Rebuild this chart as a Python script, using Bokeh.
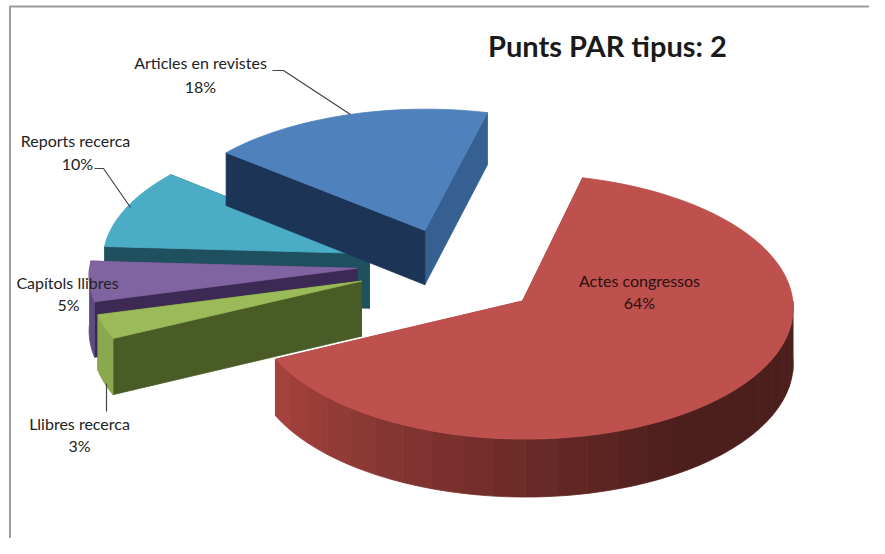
import math
from bokeh.plotting import figure
from bokeh.models import Range1d
from bokeh.embed import file_html
from bokeh.resources import INLINE
from bokeh.core.properties import value

# data
categories = ["Actes congressos", "Llibres recerca", "Capítols llibres", "Reports recerca", "Articles en revistes"]
shares = [64, 3, 5, 10, 18]
percent_labels = ["64%", "3%", "5%", "10%", "18%"]
title_text = "Punts PAR tipus: 2"

# pie style
top_colors = ["#BE504D", "#9BBB59", "#8064A2", "#4BACC6", "#4F81BD"]
start_wall = ["#A5403D", "#4A5C25", "#3C2A55", "#1F5060", "#1C3557"]
end_wall = ["#A5403D", "#4A5C25", "#3C2A55", "#1F5060", "#376092"]
outer_colors = ["#A5403D", "#8AA84E", "#5F4A80", "#2A6C7E", "#376092"]
explode = 0.32
nudge = [(0, 0), (-0.05, 0.06), (-0.05, 0.08), (-0.025, 0.046), (-0.015, 0.04)]
START, CX, CY, A, B, K, DEPTH = 14.0, 455.0, 274.0, 268.0, 130.0, 0.042, 55.0
RED_BANDS = 24

W, H = 869, 538
p = figure(width=W, height=H, x_range=Range1d(0, W), y_range=Range1d(H, 0),
           output_backend="svg", toolbar_location=None, min_border=0)
p.axis.visible = False
p.grid.visible = False
p.outline_line_color = None
p.background_fill_color = "white"


def project(X, Y, z=0.0):
    s = 1.0 / (1.0 + K * Y)
    return CX + A * X * s, CY - B * Y * s + DEPTH * z * s


def rim(apex, deg):
    t = math.radians(deg)
    return apex[0] + math.sin(t), apex[1] + math.cos(t)


def arc_angles(a0, a1, step=2.0):
    n = max(2, int(abs(a1 - a0) / step))
    return [a0 + (a1 - a0) * i / n for i in range(n + 1)]


def face(points, color):
    xs, ys = zip(*points)
    p.patch(list(xs), list(ys), fill_color=color, line_color=color, line_width=0.8)


def lerp_hex(c0, c1, t):
    a = [int(c0[i:i + 2], 16) for i in (1, 3, 5)]
    b = [int(c1[i:i + 2], 16) for i in (1, 3, 5)]
    return "#%02X%02X%02X" % tuple(round(u + (v - u) * t) for u, v in zip(a, b))


def wall(apex, d0, d1, color):
    angs = arc_angles(d0, d1)
    top = [project(*rim(apex, d)) for d in angs]
    bot = [project(*rim(apex, d), 1) for d in reversed(angs)]
    face(top + bot, color)


slices = []
ang = START
for i, v in enumerate(shares):
    a0, a1 = ang, ang + v * 3.6
    mid = math.radians((a0 + a1) / 2)
    apex = (explode * math.sin(mid) + nudge[i][0], explode * math.cos(mid) + nudge[i][1])
    slices.append((i, a0, a1, apex))
    ang = a1


def draw_slice(i, a0, a1, apex):
    r0, r1 = rim(apex, a0), rim(apex, a1)
    face([project(*apex), project(*r1), project(*r1, 1), project(*apex, 1)], end_wall[i])
    face([project(*apex), project(*r0), project(*r0, 1), project(*apex, 1)], start_wall[i])
    lo, hi = max(a0, 90), min(a1, 270)
    if hi > lo:
        if i == 0:
            for b in range(RED_BANDS):
                u = lo + (hi - lo) * b / RED_BANDS
                w = lo + (hi - lo) * (b + 1) / RED_BANDS
                t = (b + 0.5) / RED_BANDS
                wall(apex, u, w, lerp_hex("#4D1F1C", "#A8433F", max(0, (t - 0.38) / 0.62)))
        else:
            wall(apex, lo, hi, outer_colors[i])
    pts = [project(*apex)] + [project(*rim(apex, d)) for d in arc_angles(a0, a1)]
    face(pts, top_colors[i])


for idx in (3, 4, 2, 1, 0):
    draw_slice(*slices[idx])

# frame
FRAME = "#9C9C9C"
p.line([9.5, 9.5, W], [H, 6, 6], line_color=FRAME, line_width=2)

# labels
FONT = value("Lato")
label_pos = {0: (639, 280, 639, 302), 1: (79, 423, 79, 445), 2: (67, 282, 68, 304),
             3: (75, 140, 77, 163), 4: (200, 62, 200, 86)}
for i, (x0, y0, x1, y1) in label_pos.items():
    col = "#2A1010" if i == 0 else "#222222"
    p.text([x0], [y0], text=[categories[i]], text_font=FONT, text_font_size="16px",
           text_align="center", text_baseline="middle", text_color=col)
    p.text([x1], [y1], text=[percent_labels[i]], text_font=FONT, text_font_size="16px",
           text_align="center", text_baseline="middle", text_color=col)

p.text([607], [45], text=[title_text], text_font=FONT, text_font_size="29px",
       text_font_style="bold", text_align="center", text_baseline="middle", text_color="#1A1A1A")

# leader lines
for xs, ys in (([272, 283, 350], [70, 70, 114]), ([94, 103, 130], [168, 168, 207]), ([106, 106], [383, 411])):
    p.line(xs, ys, line_color="#444444", line_width=1.2)

open("out.html", "w").write(file_html(p, INLINE))
